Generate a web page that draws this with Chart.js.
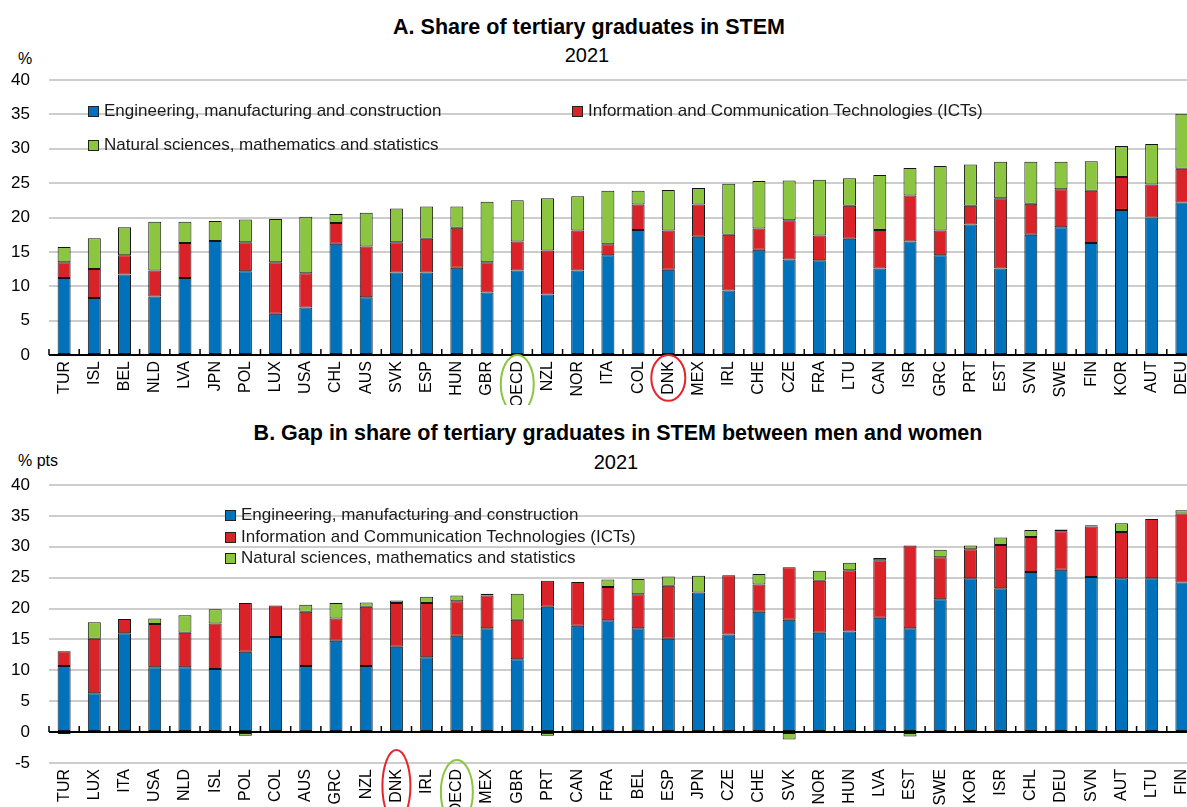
<!DOCTYPE html>
<html>
<head>
<meta charset="utf-8">
<script src="https://cdn.jsdelivr.net/npm/chart.js@4.4.1/dist/chart.umd.min.js"></script>
<style>
html, body { margin:0; padding:0; background:#fff; overflow:hidden; width:1187px; height:807px; position:relative; }
body { font-family:'Liberation Sans', Arial, sans-serif; color:#000; }
.box { position:absolute; left:0; width:1210px; }
.t { position:absolute; white-space:nowrap; line-height:24px; }
.title { font-weight:bold; font-size:21.5px; transform:translateX(-50%); }
.sub { font-size:20px; transform:translateX(-50%); }
.unit { font-size:16px; }
.leg { position:absolute; display:flex; align-items:center; font-size:17px; height:20px; white-space:nowrap; color:#1a1a1a; }
.leg i { display:inline-block; width:9px; height:9px; border:1px solid #222; margin-right:5px; }
</style>
</head>
<body>

<div class="t title" style="left:589px;top:15px">A. Share of tertiary graduates in STEM</div>
<div class="t sub" style="left:587px;top:43px">2021</div>
<div class="t unit" style="left:18px;top:47px">%</div>

<div class="t title" style="left:618px;top:421px">B. Gap in share of tertiary graduates in STEM between men and women</div>
<div class="t sub" style="left:616px;top:450px">2021</div>
<div class="t unit" style="left:18px;top:449px">% pts</div>

<div class="box" style="top:0;height:405px"><canvas id="chartA" width="1210" height="405"></canvas></div>
<div class="box" style="top:405px;height:408px"><canvas id="chartB" width="1210" height="408"></canvas></div>

<div id="legA"></div>
<div id="legB"></div>

<script>
// series names and colours
const seriesNames = ['Engineering, manufacturing and construction',
                     'Information and Communication Technologies (ICTs)',
                     'Natural sciences, mathematics and statistics']
const seriesColors = ['#0072bb', '#da2229', '#8cc540']

// Panel A: share of tertiary graduates in STEM, 2021
const catsA = ['TUR','ISL','BEL','NLD','LVA','JPN','POL','LUX','USA','CHL','AUS','SVK','ESP','HUN','GBR','OECD','NZL','NOR','ITA',
               'COL','DNK','MEX','IRL','CHE','CZE','FRA','LTU','CAN','ISR','GRC','PRT','EST','SVN','SWE','FIN','KOR','AUT','DEU']
const engA = [11.2, 8.3,11.7, 8.5,11.2,16.6,12.2, 6.0, 6.9,16.2, 8.4,12.0,12.0,12.7, 9.1,12.3, 8.8,12.3,14.5,
              18.2,12.4,17.2, 9.4,15.3,13.9,13.8,16.9,12.6,16.5,14.5,19.0,12.6,17.5,18.6,16.3,21.1,20.0,22.2]
const ictA = [ 2.3, 4.2, 2.8, 3.8, 5.1, 0.0, 4.2, 7.5, 5.0, 3.0, 7.4, 4.4, 4.9, 5.8, 4.4, 4.2, 6.4, 5.8, 1.6,
               3.7, 5.7, 4.7, 8.1, 3.1, 5.7, 3.6, 4.8, 5.6, 6.7, 3.6, 2.7,10.2, 4.5, 5.5, 7.6, 4.8, 4.8, 4.9]
const natA = [ 2.2, 4.5, 4.1, 7.1, 3.1, 2.9, 3.3, 6.3, 8.2, 1.3, 4.9, 4.9, 4.7, 3.1, 8.8, 6.0, 7.6, 5.0, 7.8,
               2.0, 5.9, 2.4, 7.4, 6.9, 5.8, 8.1, 4.0, 8.0, 4.0, 9.4, 6.0, 5.3, 6.1, 4.0, 4.3, 4.5, 5.9, 8.0]
const yTicksA = [0, 5, 10, 15, 20, 25, 30, 35, 40]

// Panel B: gap between men and women, % pts, 2021
const catsB = ['TUR','LUX','ITA','USA','NLD','ISL','POL','COL','AUS','GRC','NZL','DNK','IRL','OECD','MEX','GBR','PRT','CAN','FRA',
               'BEL','ESP','JPN','CZE','CHE','SVK','NOR','HUN','LVA','EST','SWE','KOR','ISR','CHL','DEU','SVN','AUT','LTU','FIN']
const engB = [10.7, 6.3,16.0,10.5,10.5,10.2,13.0,15.4,10.7,14.8,10.7,13.8,12.1,15.6,16.8,11.8,20.3,17.2,18.1,
              16.8,15.1,22.6,15.8,19.5,18.2,16.1,16.3,18.5,16.8,21.5,24.9,23.3,25.9,26.3,25.1,24.9,24.9,24.2]
const ictB = [ 2.4, 8.8, 2.3, 7.0, 5.6, 7.4, 7.9, 5.1, 8.8, 3.6, 9.6, 7.1, 8.8, 5.6, 5.3, 6.4, 4.2, 7.1, 5.4,
               5.5, 8.6, 0.0, 9.6, 4.4, 8.5, 8.4, 9.9, 9.3,13.4, 6.8, 4.7, 7.0, 5.7, 6.2, 8.2, 7.5, 9.6,11.2]
const natB = [-0.3, 2.7,-0.1, 0.9, 2.8, 2.3,-0.6,-0.1, 1.1, 2.5, 0.7, 0.4, 1.0, 0.9, 0.3, 4.2,-0.6,-0.2, 1.2,
               2.5, 1.5, 2.7,-0.2, 1.7,-1.2, 1.6, 1.2, 0.4,-0.7, 1.2, 0.6, 1.2, 1.1, 0.3, 0.2, 1.4, 0.0, 0.5]
const yTicksB = [-5, 0, 5, 10, 15, 20, 25, 30, 35, 40]

// countries circled under the axis
const ringsA = [{code: 'DNK', color: '#e2262c', extra: 6, rx: 17}, {code: 'OECD', color: '#8cc540', extra: 6, rx: 16.5}]
const ringsB = [{code: 'DNK', color: '#e2262c', extra: 19, rx: 14}, {code: 'OECD', color: '#8cc540', extra: 9, rx: 16}]

const FONT = "'Liberation Sans', Arial, sans-serif"

// black zero line with small ticks between categories
const zeroAxis = {
    id: 'zeroAxis',
    afterDatasetsDraw(chart) {
        const {ctx, chartArea, scales: {x, y}} = chart
        const y0 = y.getPixelForValue(0)
        const step = x.getPixelForValue(1) - x.getPixelForValue(0)
        ctx.save()
        ctx.strokeStyle = '#000'
        ctx.lineWidth = 2
        ctx.beginPath()
        ctx.moveTo(chartArea.left, y0)
        ctx.lineTo(chartArea.right, y0)
        ctx.stroke()
        ctx.lineWidth = 1.5
        ctx.beginPath()
        for (let i = 0; i <= x.ticks.length; i++) {
            const px = x.getPixelForValue(i) - step / 2
            ctx.moveTo(px, y0)
            ctx.lineTo(px, y0 - 6)
        }
        ctx.stroke()
        ctx.restore()
    }
}

// ellipses round some tick labels
const rings = {
    id: 'rings',
    afterDraw(chart, args, opts) {
        const {ctx, chartArea, scales: {x}} = chart
        const cats = chart.data.labels
        ctx.save()
        ctx.font = '16px ' + FONT
        ctx.lineWidth = 2
        opts.list.forEach(r => {
            const i = cats.indexOf(r.code)
            const tw = ctx.measureText(r.code).width
            const cx = x.getPixelForValue(i)
            const cy = chartArea.bottom + 6 + tw / 2
            ctx.strokeStyle = r.color
            ctx.beginPath()
            ctx.ellipse(cx, cy, r.rx, tw / 2 + r.extra, 0, 0, Math.PI * 2)
            ctx.stroke()
        })
        ctx.restore()
    }
}

function criarGrafico(id, cats, series, ticks, ringList) {
    const ctx = document.getElementById(id).getContext('2d')
    const datasets = series.map((vals, k) => ({
        label: seriesNames[k],
        data: vals,
        backgroundColor: seriesColors[k],
        borderColor: '#151515',
        borderWidth: 1,
        borderSkipped: false,
        barPercentage: 0.43,
        categoryPercentage: 1
    }))
    return new Chart(ctx, {
        type: 'bar',
        data: { labels: cats, datasets: datasets },
        options: {
            responsive: false,
            animation: false,
            devicePixelRatio: 1,
            layout: { padding: { top: 80, left: 0, right: 13, bottom: 0 } },
            plugins: {
                legend: { display: false },
                tooltip: { enabled: false },
                rings: { list: ringList }
            },
            scales: {
                x: {
                    stacked: true,
                    grid: { display: false, drawTicks: false },
                    border: { display: false },
                    ticks: {
                        autoSkip: false, maxRotation: 90, minRotation: 90, padding: 6,
                        color: '#000', font: { family: FONT, size: 16 }
                    },
                    afterFit: s => { s.height = 50 }
                },
                y: {
                    stacked: true,
                    min: ticks[0],
                    max: ticks[ticks.length - 1],
                    afterBuildTicks: s => { s.ticks = ticks.map(v => ({ value: v })) },
                    grid: { color: '#cdcdcd', lineWidth: 2, drawTicks: false },
                    border: { display: false },
                    ticks: { padding: 19, color: '#000', font: { family: FONT, size: 17 } },
                    afterFit: s => { s.width = 49 }
                }
            }
        },
        plugins: [zeroAxis, rings]
    })
}

function legenda(id, items) {
    const box = document.getElementById(id)
    items.forEach(it => {
        const d = document.createElement('div')
        d.className = 'leg'
        d.style.left = it.x + 'px'
        d.style.top = (it.y - 10) + 'px'
        d.innerHTML = '<i style="background:' + seriesColors[it.k] + '"></i>' + seriesNames[it.k]
        box.appendChild(d)
    })
}

criarGrafico('chartA', catsA, [engA, ictA, natA], yTicksA, ringsA)
criarGrafico('chartB', catsB, [engB, ictB, natB], yTicksB, ringsB)

legenda('legA', [{k: 0, x: 88, y: 111}, {k: 1, x: 572, y: 111}, {k: 2, x: 88, y: 145}])
legenda('legB', [{k: 0, x: 225, y: 515}, {k: 1, x: 225, y: 537}, {k: 2, x: 225, y: 558}])
</script>
</body>
</html>
